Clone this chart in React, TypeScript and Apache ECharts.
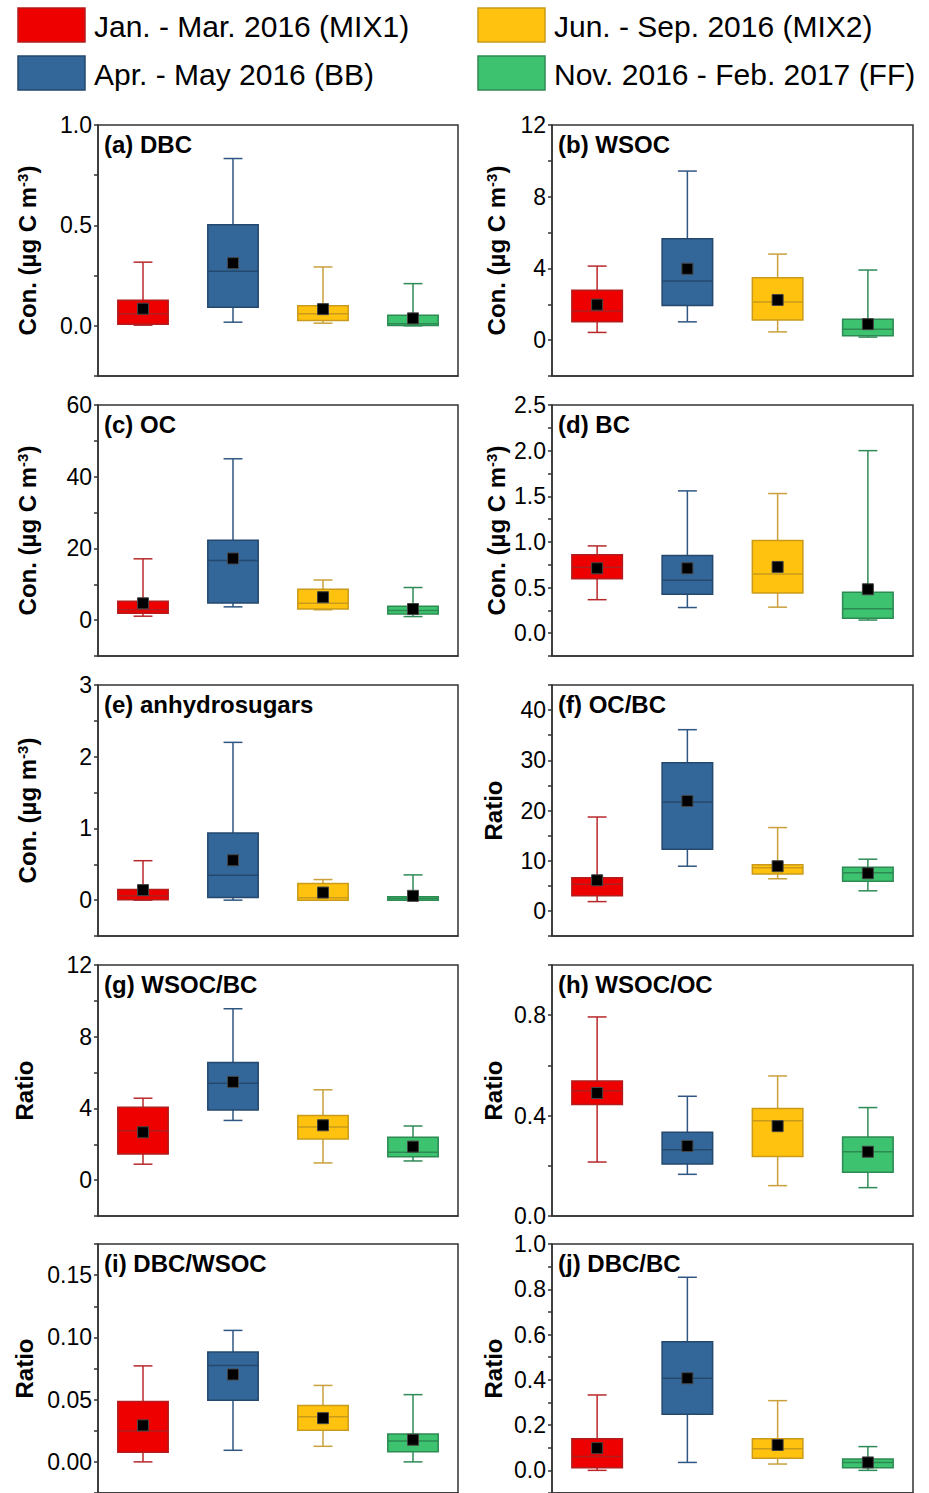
import React, { useEffect, useRef } from "react";
import * as echarts from "echarts";

const categories = ["MIX1", "BB", "MIX2", "FF"];
const legendLabels = [
  "Jan. - Mar. 2016 (MIX1)",
  "Apr. - May 2016 (BB)",
  "Jun. - Sep. 2016 (MIX2)",
  "Nov. 2016 - Feb. 2017 (FF)",
];
const fillColors = ["#EE0000", "#336699", "#FFC20E", "#3DC26F"];
const edgeColors = ["#B01E1E", "#24486E", "#C99A1B", "#2C8A52"];
const whiskerColors = ["#B8282B", "#2F5682", "#C9A03C", "#2E8B57"];

const panelTitles = [
  "(a) DBC", "(b) WSOC", "(c) OC", "(d) BC", "(e) anhydrosugars",
  "(f) OC/BC", "(g) WSOC/BC", "(h) WSOC/OC", "(i) DBC/WSOC", "(j) DBC/BC",
];
const yTitleKinds = ["concC", "concC", "concC", "concC", "conc", "ratio", "ratio", "ratio", "ratio", "ratio"];

// [min whisker, Q1, median, Q3, max whisker] per category
const dbcBox = [[0.003, 0.008, 0.06, 0.127, 0.317], [0.018, 0.092, 0.272, 0.503, 0.833], [0.013, 0.027, 0.06, 0.1, 0.293], [0.0, 0.002, 0.01, 0.052, 0.21]];
const dbcMean = [0.085, 0.312, 0.083, 0.037];
const wsocBox = [[0.43, 1.02, 1.63, 2.78, 4.13], [1.02, 1.93, 3.3, 5.65, 9.43], [0.46, 1.13, 2.13, 3.48, 4.8], [0.17, 0.24, 0.61, 1.17, 3.91]];
const wsocMean = [1.98, 3.98, 2.24, 0.89];
const ocBox = [[1.1, 1.9, 2.9, 5.3, 17.1], [3.7, 4.8, 16.6, 22.3, 45.0], [2.9, 3.1, 4.7, 8.6, 11.2], [1.0, 1.7, 2.7, 3.9, 9.1]];
const ocMean = [4.7, 17.2, 6.4, 3.1];
const bcBox = [[0.367, 0.596, 0.722, 0.859, 0.956], [0.281, 0.426, 0.581, 0.852, 1.559], [0.285, 0.441, 0.648, 1.015, 1.53], [0.144, 0.163, 0.267, 0.448, 2.0]];
const bcMean = [0.711, 0.711, 0.726, 0.481];
const anhBox = [[0, 0.005, 0.06, 0.148, 0.55], [0, 0.037, 0.347, 0.935, 2.2], [0, 0.0, 0.032, 0.231, 0.287], [0, 0.0, 0.023, 0.046, 0.352]];
const anhMean = [0.14, 0.556, 0.106, 0.06];
const ocbcBox = [[1.85, 3.0, 5.3, 6.6, 18.7], [8.9, 12.3, 21.7, 29.5, 36.1], [6.4, 7.35, 8.6, 9.2, 16.6], [4.0, 5.9, 7.6, 8.7, 10.3]];
const ocbcMean = [6.1, 21.9, 8.9, 7.5];
const wsocbcBox = [[0.89, 1.46, 2.76, 4.07, 4.57], [3.33, 3.91, 5.41, 6.56, 9.56], [0.96, 2.3, 2.96, 3.61, 5.04], [1.07, 1.31, 1.56, 2.39, 3.02]];
const wsocbcMean = [2.67, 5.48, 3.06, 1.87];
const wsococBox = [[0.215, 0.444, 0.499, 0.538, 0.793], [0.166, 0.207, 0.264, 0.334, 0.477], [0.121, 0.237, 0.379, 0.428, 0.558], [0.113, 0.174, 0.256, 0.315, 0.432]];
const wsococMean = [0.49, 0.279, 0.358, 0.256];
const dbcwsocBox = [[0, 0.0077, 0.0247, 0.0484, 0.0771], [0.0093, 0.0495, 0.0774, 0.0883, 0.1056], [0.0125, 0.0255, 0.0362, 0.0452, 0.0614], [0, 0.0082, 0.0168, 0.0223, 0.054]];
const dbcwsocMean = [0.0293, 0.0702, 0.0351, 0.0178];
const dbcbcBox = [[0, 0.012, 0.061, 0.14, 0.333], [0.035, 0.248, 0.407, 0.568, 0.853], [0.028, 0.054, 0.095, 0.14, 0.308], [0, 0.012, 0.035, 0.05, 0.105]];
const dbcbcMean = [0.098, 0.407, 0.112, 0.035];

const panelBoxes = [dbcBox, wsocBox, ocBox, bcBox, anhBox, ocbcBox, wsocbcBox, wsococBox, dbcwsocBox, dbcbcBox];
const panelMeans = [dbcMean, wsocMean, ocMean, bcMean, anhMean, ocbcMean, wsocbcMean, wsococMean, dbcwsocMean, dbcbcMean];

const yMin = [-0.25, -2, -10, -0.25, -0.5, -5, -2, 0, -0.025, -0.1];
const yMax = [1.0, 12, 60, 2.5, 3, 45, 12, 1.0, 0.175, 1.0];
const yMinor = [0.25, 2, 10, 0.25, 0.5, 5, 2, 0.2, 0.025, 0.1];
const yMajor = [0.5, 4, 20, 0.5, 1, 10, 4, 0.4, 0.05, 0.2];
const yDecimals = [1, 0, 0, 1, 0, 0, 0, 1, 2, 1];

const FONT = "'Liberation Sans', Arial, sans-serif";
const colLeft = [98, 552];
const colWidth = [360, 361];
const rowTop = [125, 405, 685, 965, 1244];
const gridH = 251;
const nameGaps = [59, 44, 59, 44, 59, 47, 62, 47, 62, 47];

function yName(kind: string) {
  if (kind === "concC") return "{a|Con. (µg C m}{s|-3}{a|)}";
  if (kind === "conc") return "{a|Con. (µg m}{s|-3}{a|)}";
  return "{a|Ratio}";
}

export default function App() {
  const ref = useRef<HTMLDivElement>(null);
  useEffect(() => {
    if (!ref.current) return;
    const chart = echarts.init(ref.current, null, { renderer: "svg" });
    const grids: any[] = [];
    const xAxes: any[] = [];
    const yAxes: any[] = [];
    const series: any[] = [];
    const graphics: any[] = [];

    panelTitles.forEach((title, p) => {
      const col = p % 2;
      const row = Math.floor(p / 2);
      grids.push({
        left: colLeft[col], top: rowTop[row], width: colWidth[col], height: gridH,
        show: true, borderColor: "#333", borderWidth: 1.5, backgroundColor: "transparent",
      });
      xAxes.push({
        type: "category", gridIndex: p, data: categories, position: "bottom",
        axisLine: { onZero: false, lineStyle: { color: "#333", width: 1.5 } },
        axisTick: { alignWithLabel: true, inside: false, length: 5, lineStyle: { color: "#333", width: 1.5 } },
        axisLabel: { show: false }, splitLine: { show: false },
      });
      const major = yMajor[p];
      const dec = yDecimals[p];
      yAxes.push({
        type: "value", gridIndex: p, min: yMin[p], max: yMax[p], interval: yMinor[p],
        axisLine: { show: true, onZero: false, lineStyle: { color: "#333", width: 1.5 } },
        axisTick: { show: true, inside: false, length: 4, lineStyle: { color: "#333", width: 1.5 } },
        splitLine: { show: false },
        axisLabel: {
          color: "#000", fontSize: 23, fontFamily: FONT, margin: 6,
          formatter: (v: number) => {
            const r = v / major;
            if (Math.abs(r - Math.round(r)) > 1e-6) return "";
            return (Math.round(r) * major).toFixed(dec);
          },
        },
        name: yName(yTitleKinds[p]),
        nameLocation: "middle", nameRotate: 90, nameGap: nameGaps[p],
        nameTextStyle: {
          color: "#000", fontFamily: FONT, fontSize: 24, fontWeight: "bold",
          rich: {
            a: { fontSize: 24, fontWeight: "bold", fontFamily: FONT, color: "#000" },
            s: { fontSize: 15, fontWeight: "bold", fontFamily: FONT, color: "#000", verticalAlign: "top" },
          },
        },
      });
      series.push({
        type: "custom", xAxisIndex: p, yAxisIndex: p, z: 2,
        data: panelBoxes[p].map((s, i) => [i, ...s]),
        encode: { x: 0, y: [1, 2, 3, 4, 5] },
        renderItem: (params: any, api: any) => {
          const ci = api.value(0);
          const lo = api.coord([ci, api.value(1)]);
          const q1 = api.coord([ci, api.value(2)]);
          const md = api.coord([ci, api.value(3)]);
          const q3 = api.coord([ci, api.value(4)]);
          const hi = api.coord([ci, api.value(5)]);
          const band = api.size([1, 0])[0];
          const bw = band * 0.56;
          const cw = band * 0.21;
          const cx = lo[0];
          const wStyle = { stroke: whiskerColors[ci], lineWidth: 1.5, fill: null };
          const eStyle = { stroke: edgeColors[ci], lineWidth: 1.5, fill: null };
          return {
            type: "group",
            children: [
              { type: "line", shape: { x1: cx, y1: hi[1], x2: cx, y2: q3[1] }, style: wStyle },
              { type: "line", shape: { x1: cx - cw / 2, y1: hi[1], x2: cx + cw / 2, y2: hi[1] }, style: wStyle },
              { type: "line", shape: { x1: cx, y1: lo[1], x2: cx, y2: q1[1] }, style: wStyle },
              { type: "line", shape: { x1: cx - cw / 2, y1: lo[1], x2: cx + cw / 2, y2: lo[1] }, style: wStyle },
              {
                type: "rect",
                shape: { x: cx - bw / 2, y: q3[1], width: bw, height: Math.max(q1[1] - q3[1], 1) },
                style: { fill: fillColors[ci], stroke: edgeColors[ci], lineWidth: 1.5 },
              },
              { type: "line", shape: { x1: cx - bw / 2, y1: md[1], x2: cx + bw / 2, y2: md[1] }, style: eStyle },
            ],
          };
        },
      });
      series.push({
        type: "scatter", xAxisIndex: p, yAxisIndex: p, z: 5,
        symbol: "rect", symbolSize: 11,
        itemStyle: { color: "#000", borderColor: "#444", borderWidth: 1, opacity: 1 },
        data: panelMeans[p].map((m, i) => [i, m]),
      });
      graphics.push({
        type: "text", x: colLeft[col] + 6, y: rowTop[row] + 19,
        style: { text: title, fontSize: 24, fontWeight: "bold", fontFamily: FONT, fill: "#000", verticalAlign: "middle" },
      });
    });

    const legCol = [18, 478];
    const legRow = [8, 56];
    legendLabels.forEach((lab, i) => {
      const c = Math.floor(i / 2);
      const r = i % 2;
      graphics.push({
        type: "rect",
        shape: { x: legCol[c], y: legRow[r], width: 67, height: 34 },
        style: { fill: fillColors[i], stroke: edgeColors[i], lineWidth: 1.5 },
      });
      graphics.push({
        type: "text", x: legCol[c] + 76, y: legRow[r] + 18,
        style: { text: lab, fontSize: 30, fontFamily: FONT, fill: "#000", verticalAlign: "middle" },
      });
    });

    chart.setOption({
      animation: false,
      textStyle: { fontFamily: FONT },
      grid: grids,
      xAxis: xAxes,
      yAxis: yAxes,
      series,
      graphic: graphics,
    });
    return () => chart.dispose();
  }, []);
  return (
    <div
      ref={ref}
      style={{ position: "absolute", left: 0, top: 0, width: 929, height: 1493, background: "#fff" }}
    />
  );
}
